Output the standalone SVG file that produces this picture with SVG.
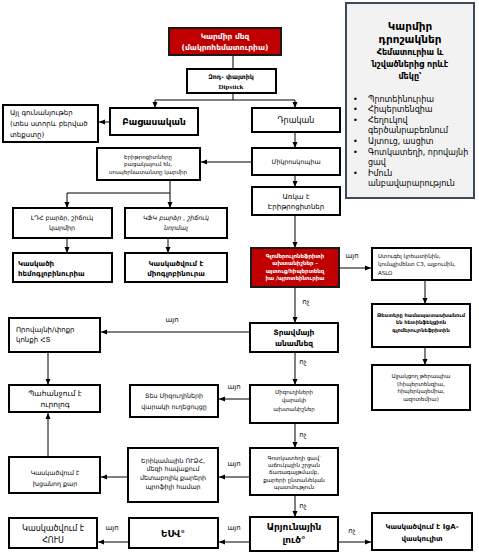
<svg xmlns="http://www.w3.org/2000/svg" width="479" height="557" viewBox="0 0 479 557">
<style>
.box{fill:#fff;stroke:#000;stroke-width:2}
.red{fill:#C00000;stroke:#1a1a1a;stroke-width:2}
.side{fill:#F2F2F2;stroke:#3A4A5A;stroke-width:2}
text{font-family:"DejaVu Sans",sans-serif;fill:#000}
.c{text-anchor:middle}
.b{font-weight:bold}
.w{fill:#fff}
.s5{font-size:5.1px}
.s6{font-size:5.5px}
.s65{font-size:6.3px}
.s7{font-size:7px}
.s75{font-size:7.5px}
.s8{font-size:8px}
.s9{font-size:9px}
.s10{font-size:10.5px}
.ln{stroke:#000;stroke-width:1;fill:none}
.lab{font-size:7px}
</style>
<defs>
<marker id="ah" markerWidth="6" markerHeight="6" refX="6" refY="3" orient="auto" markerUnits="userSpaceOnUse">
<path d="M0,0.5 L6,3 L0,5.5 z" fill="#000"/>
</marker>
</defs>

<g id="connectors">
<path class="ln" d="M233,55 V69"/>
<path class="ln" d="M233,93 V100 H155 M233,100 H295"/>
<path class="ln" d="M155,100 V108" marker-end="url(#ah)"/>
<path class="ln" d="M295,100 V108" marker-end="url(#ah)"/>
<path class="ln" d="M110,122 H99" marker-end="url(#ah)"/>
<path class="ln" d="M295,132 V148" marker-end="url(#ah)"/>
<path class="ln" d="M252,162 H201" marker-end="url(#ah)"/>
<path class="ln" d="M295,175 V187" marker-end="url(#ah)"/>
<path class="ln" d="M170,180 V193 H67 V208" marker-end="url(#ah)"/>
<path class="ln" d="M170,193 V208" marker-end="url(#ah)"/>
<path class="ln" d="M67,238 V253" marker-end="url(#ah)"/>
<path class="ln" d="M168,238 V253" marker-end="url(#ah)"/>
<path class="ln" d="M295,215 V248" marker-end="url(#ah)"/>
<path class="ln" d="M339,268 H371" marker-end="url(#ah)"/>
<path class="ln" d="M425,280 V304" marker-end="url(#ah)"/>
<path class="ln" d="M425,347 V365" marker-end="url(#ah)"/>
<path class="ln" d="M295,287 V323" marker-end="url(#ah)"/>
<path class="ln" d="M250,332 H101" marker-end="url(#ah)"/>
<path class="ln" d="M48,352 V385" marker-end="url(#ah)"/>
<path class="ln" d="M295,352 V385" marker-end="url(#ah)"/>
<path class="ln" d="M250,399 H219" marker-end="url(#ah)"/>
<path class="ln" d="M295,423 V448" marker-end="url(#ah)"/>
<path class="ln" d="M250,477 H219" marker-end="url(#ah)"/>
<path class="ln" d="M128,477 H101" marker-end="url(#ah)"/>
<path class="ln" d="M48,457 V413" marker-end="url(#ah)"/>
<path class="ln" d="M295,495 V517" marker-end="url(#ah)"/>
<path class="ln" d="M250,542 H219" marker-end="url(#ah)"/>
<path class="ln" d="M129,542 H98" marker-end="url(#ah)"/>
<path class="ln" d="M338,542 H371" marker-end="url(#ah)"/>
<text class="lab c" x="352" y="258">այո</text>
<text class="lab c" x="306" y="304">ոչ</text>
<text class="lab c" x="172" y="322">այո</text>
<text class="lab c" x="303" y="364">ոչ</text>
<text class="lab c" x="234" y="389">այո</text>
<text class="lab c" x="303" y="437">ոչ</text>
<text class="lab c" x="234" y="466">այո</text>
<text class="lab c" x="303" y="508">ոչ</text>
<text class="lab c" x="234" y="530">այո</text>
<text class="lab c" x="112" y="530">այո</text>
<text class="lab c" x="352" y="533">ոչ</text>
</g>

<g id="title">
<rect class="red" x="169" y="28" width="112" height="27"/>
<text class="c b w s75" x="225" y="39">Կարմիր մեզ</text>
<text class="c b w s75" x="225" y="50">(մակրոհեմատուրիա)</text>
</g>

<g id="dipstick">
<rect class="box" x="187" y="69" width="89" height="24"/>
<text class="c b s65" x="231" y="79">Զոդ- փայտիկ</text>
<text class="c b" x="231" y="89" style="font-family:'Liberation Serif',serif;font-size:7px">Dipstick</text>
</g>

<g id="redflags">
<rect class="side" x="346" y="3" width="128" height="195"/>
<text class="c b s10" x="410" y="30">Կարմիր</text>
<text class="c b s10" x="410" y="43">դրոշակներ</text>
<text class="c b s8" x="410" y="55">Հեմատուրիա և</text>
<text class="c b s8" x="410" y="67">նշվածներից որևէ</text>
<text class="c b s8" x="410" y="79">մեկը՝</text>
<g class="s8">
<text x="353" y="102">•</text><text x="368" y="102">Պրոտեինուրիա</text>
<text x="353" y="112">•</text><text x="368" y="112">Հիպերտենզիա</text>
<text x="353" y="123">•</text><text x="368" y="123">Հեղուկով</text>
<text x="368" y="133">գերծանրաբեռնում</text>
<text x="353" y="144">•</text><text x="368" y="144">Այտուց, ասցիտ</text>
<text x="353" y="155">•</text><text x="368" y="155">Գոտկատեղի, որովայնի</text>
<text x="368" y="165">ցավ</text>
<text x="353" y="176">•</text><text x="368" y="176">Իմուն</text>
<text x="368" y="186">անբավարարություն</text>
</g>
</g>

<g id="negative">
<rect class="box" x="110" y="108" width="88" height="27"/>
<text class="c b s9" x="154" y="125">Բացասական</text>
</g>

<g id="otherpigments">
<rect class="box" x="3" y="105" width="95" height="37"/>
<text class="s7" x="10" y="115">Այլ գունանյութեր</text>
<text class="s7" x="10" y="126">(տես ստորև բերված</text>
<text class="s7" x="10" y="137">տեքստը)</text>
</g>

<g id="positive">
<rect class="box" x="252" y="108" width="88" height="24"/>
<text class="c s8" x="296" y="123">Դրական</text>
</g>

<g id="microscopy">
<rect class="box" x="252" y="148" width="88" height="27"/>
<text class="c s65" x="296" y="164">Միկրոսկոպիա</text>
</g>

<g id="noRBC">
<rect class="box" x="97" y="148" width="103" height="32"/>
<text class="c s6" x="148" y="159">Էրիթրոցիտները</text>
<text class="c s6" x="148" y="166">բացակայում են,</text>
<text class="c s6" x="148" y="174">սուպերնատանտը կարմիր</text>
</g>

<g id="rbcPresent">
<rect class="box" x="252" y="187" width="88" height="28"/>
<text class="c s7" x="296" y="199">Առկա է</text>
<text class="c s7" x="296" y="209">Էրիթրոցիտներ</text>
</g>

<g id="ldh">
<rect class="box" x="13" y="208" width="99" height="30"/>
<text class="c s65" x="62" y="220">ԼԴՀ բարձր, շիճուկ</text>
<text class="c s65" x="62" y="230">կարմիր</text>
</g>

<g id="cpk">
<rect class="box" x="125" y="208" width="102" height="30"/>
<text class="c s65" x="176" y="220" font-style="italic">ԿՖԿ բարձր , շիճուկ</text>
<text class="c s65" x="176" y="230" font-style="italic">նորմալ</text>
</g>

<g id="hemoglobinuria">
<rect class="box" x="13" y="253" width="99" height="29"/>
<text class="b s7" x="18" y="266">Կասկածի</text>
<text class="b s7" x="18" y="276">հեմոգլոբինուրիա</text>
</g>

<g id="myoglobinuria">
<rect class="box" x="125" y="253" width="102" height="29"/>
<text class="c b s7" x="176" y="266">Կասկածվում է</text>
<text class="c b s7" x="176" y="276">միոգլոբինուրա</text>
</g>

<g id="gn">
<rect class="red" x="251" y="248" width="88" height="39"/>
<text class="c b w s6" x="295" y="258">Գլոմերուլոնեֆրիտի</text>
<text class="c b w s6" x="295" y="265">ախտանիշներ -</text>
<text class="c b w s6" x="295" y="273">այտուց/հիպերտենզ</text>
<text class="c b w s6" x="295" y="280">իա /պրոտեինուրիա</text>
</g>

<g id="labs">
<rect class="box" x="372" y="248" width="99" height="32"/>
<text class="s6" x="378" y="258">Ստուգել կրեատինին,</text>
<text class="s6" x="378" y="266">կոմպլիմենտ C3, ալբումին,</text>
<text class="s6" x="378" y="275">ASLO</text>
</g>

<g id="postinfectious">
<rect class="box" x="372" y="304" width="98" height="43"/>
<text class="c b s5" x="421" y="317">Թեստերը համապատասխանում</text>
<text class="c b s5" x="421" y="324">են հետինֆեկցիոն</text>
<text class="c b s5" x="421" y="332">գլոմերուլոնեֆրիտին</text>
</g>

<g id="supportive">
<rect class="box" x="372" y="365" width="98" height="45"/>
<text class="c s6" x="421" y="378">Աջակցող թերապիա</text>
<text class="c s6" x="421" y="386">(հիպերտենզիա,</text>
<text class="c s6" x="421" y="393">հիպերկալեմիա,</text>
<text class="c s6" x="421" y="401">ազոտեմիա)</text>
</g>

<g id="trauma">
<rect class="box" x="250" y="323" width="88" height="29"/>
<text class="c b s75" x="294" y="335">Տրավմայի</text>
<text class="c b s75" x="294" y="346">անամնեզ</text>
</g>

<g id="ct">
<rect class="box" x="9" y="318" width="91" height="34"/>
<text class="s7" x="16" y="332">Որովայնի/փոքր</text>
<text class="s7" x="16" y="342">կոնքի ՀՏ</text>
</g>

<g id="urology">
<rect class="box" x="9" y="385" width="91" height="27"/>
<text class="c s75" x="55" y="396">Պահանջում է</text>
<text class="c s75" x="55" y="407">ուրոլոգ</text>
</g>

<g id="uti">
<rect class="box" x="250" y="385" width="88" height="38"/>
<text class="c s6" x="294" y="394">Միզուղիների</text>
<text class="c s6" x="294" y="402">վարակի</text>
<text class="c s6" x="294" y="411">ախտանիշներ</text>
</g>

<g id="utiguide">
<rect class="box" x="130" y="385" width="88" height="32"/>
<text class="c s65" x="174" y="398">Տես Միզուղիների</text>
<text class="c s65" x="174" y="409">վարակի ուղեցույցը</text>
</g>

<g id="flankpain">
<rect class="box" x="250" y="448" width="88" height="47"/>
<text class="c s6" x="294" y="460">Գոտկատեղի ցավ՝</text>
<text class="c s6" x="294" y="467">աճուկային շրջան</text>
<text class="c s6" x="294" y="474">ճառագայթմամբ,</text>
<text class="c s6" x="294" y="482">քարերի ընտանեկան</text>
<text class="c s6" x="294" y="489">պատմություն</text>
</g>

<g id="renalus">
<rect class="box" x="128" y="448" width="90" height="54"/>
<text class="c s65" x="173" y="463">Երիկամային ՈՒՁՀ,</text>
<text class="c s65" x="173" y="471">մեզի հավաքում</text>
<text class="c s65" x="173" y="480">մետաբոլիկ քարերի</text>
<text class="c s65" x="173" y="489">պրոֆիլի համար</text>
</g>

<g id="stone">
<rect class="box" x="9" y="457" width="91" height="36"/>
<text class="c s65" x="55" y="475">Կասկածվում է</text>
<text class="c s65" x="55" y="486">խցանող քար</text>
</g>

<g id="bloodydiarrhea">
<rect class="box" x="250" y="517" width="88" height="34"/>
<text class="c b s9" x="294" y="530">Արյունային</text>
<text class="c b s9" x="294" y="543">լուծ°</text>
</g>

<g id="esv">
<rect class="box" x="129" y="518" width="89" height="30"/>
<text class="c b s9" x="173" y="537">ԵՍՎ°</text>
</g>

<g id="hus">
<rect class="box" x="9" y="518" width="88" height="30"/>
<text class="c s8" x="53" y="531">Կասկածվում է</text>
<text class="c s8" x="53" y="543">ՀՈՒՍ</text>
</g>

<g id="iga">
<rect class="box" x="372" y="513" width="100" height="37"/>
<text class="c b s7" x="422" y="529">Կասկածվում է IgA-</text>
<text class="c b s7" x="422" y="541">վասկուլիտ</text>
</g>
</svg>
